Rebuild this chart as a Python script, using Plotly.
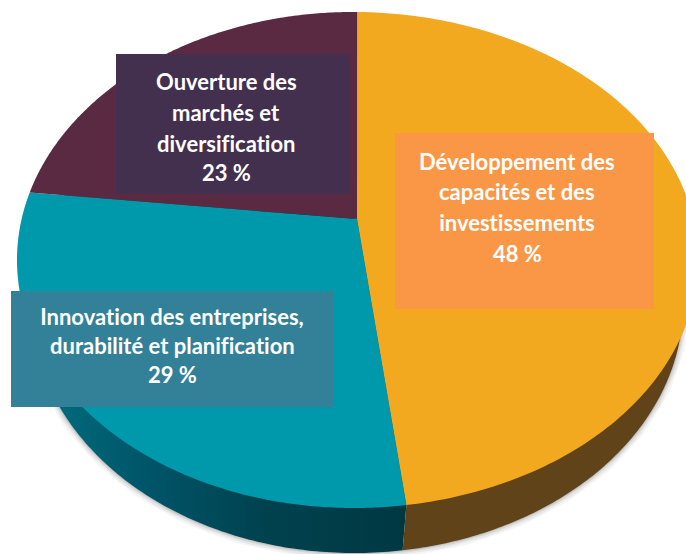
import numpy as np
import plotly.graph_objects as go

# Chart content
slice_names = ["Développement des capacités et des investissements",
               "Innovation des entreprises, durabilité et planification",
               "Ouverture des marchés et diversification"]
slice_shares = [48, 29, 23]          # printed percentages
drawn_sweeps = [170.4, 114.7, 74.9]  # degrees of each slice as drawn on the tilted disc
slice_colors = ["#F2A91F", "#0098AB", "#5A2A42"]
label_lines = [["Développement des", "capacités et des", "investissements", f"{slice_shares[0]} %"],
               ["Innovation des entreprises,", "durabilité et planification", f"{slice_shares[1]} %"],
               ["Ouverture des", "marchés et", "diversification", f"{slice_shares[2]} %"]]
label_boxes = [(395, 133, 654, 309), (11, 291, 333, 407), (116, 54, 350, 194)]
box_colors = ["#FA9747", "#338099", "#43304F"]
label_cx = [517, 172, 226]
label_y = [[161, 191, 222, 253], [316, 345, 374], [81, 112, 143, 172]]

W, H = 686, 554
START = 0.7
TOP = dict(cx=353, cy=260, a_right=345, a_left=336, b=248)
BOTTOM = dict(cx=354, cy=305, a_right=329, a_left=323, b=248)
HUB = (357, 219)


def arc(e, t0, t1, n=160):
    t = np.radians(np.linspace(t0, t1, n))
    s = np.sin(t)
    a = np.where(s >= 0, e["a_right"], e["a_left"])
    return e["cx"] + a * s, e["cy"] - e["b"] * np.cos(t)


fig = go.Figure()

# soft shadow round the rim
for width, alpha in [(13, 0.05), (9, 0.07), (5, 0.10), (2, 0.14)]:
    x, y = arc(BOTTOM, 70, 300)
    fig.add_trace(go.Scatter(x=x, y=y, mode="lines", hoverinfo="skip", showlegend=False,
                             line=dict(color=f"rgba(60,60,60,{alpha})", width=width)))

# rim: both pieces are closed through the seam on the top face and the hub
seam_angle = START + drawn_sweeps[0]
seam_x, seam_y = arc(TOP, seam_angle, seam_angle, 1)
seam_t = 171.5
x, y = arc(BOTTOM, 60, seam_t)
fig.add_trace(go.Scatter(x=[HUB[0], *x, *seam_x, HUB[0]], y=[HUB[1], *y, *seam_y, HUB[1]],
                         fill="toself", fillcolor="#604318", mode="none",
                         hoverinfo="skip", showlegend=False))
x, y = arc(BOTTOM, seam_t, 305)
fig.add_trace(go.Scatter(x=[HUB[0], *seam_x, *x, HUB[0]], y=[HUB[1], *seam_y, *y, HUB[1]],
                         fill="toself", mode="none", hoverinfo="skip", showlegend=False,
                         fillgradient=dict(type="horizontal", start=50, stop=405,
                                           colorscale=[[0, "#006C7C"], [0.25, "#00566A"],
                                                       [0.6, "#00424F"], [1, "#003842"]])))

# top face
start = START
for name, sweep, color, share in zip(slice_names, drawn_sweeps, slice_colors, slice_shares):
    ax, ay = arc(TOP, start, start + sweep)
    fig.add_trace(go.Scatter(x=[HUB[0], *ax, HUB[0]], y=[HUB[1], *ay, HUB[1]],
                             fill="toself", fillcolor=color, mode="none", name=name,
                             text=f"{name}: {share} %", hoverinfo="text", showlegend=False))
    start += sweep

# label boxes and text
shapes = [dict(type="rect", xref="x", yref="y", x0=b[0], y0=b[1], x1=b[2], y1=b[3],
               fillcolor=c, line_width=0, layer="above")
          for b, c in zip(label_boxes, box_colors)]
annotations = []
for lines, cx, ys in zip(label_lines, label_cx, label_y):
    for line, ly in zip(lines, ys):
        annotations.append(dict(x=cx, y=ly, text=line, showarrow=False, xref="x", yref="y",
                                xanchor="center", yanchor="middle",
                                font=dict(family="Lato, 'Open Sans', sans-serif", size=22,
                                          color="white", weight="bold")))

fig.update_layout(width=W, height=H, margin=dict(l=0, r=0, t=0, b=0), autosize=False,
                  paper_bgcolor="white", plot_bgcolor="white", showlegend=False,
                  shapes=shapes, annotations=annotations,
                  xaxis=dict(range=[0, W], visible=False, fixedrange=True),
                  yaxis=dict(range=[H, 0], visible=False, fixedrange=True))
page_css = ("var s=document.createElement('style');"
            "s.textContent='html,body{margin:0;padding:0;overflow:hidden}"
            "text{font-variant-ligatures:none !important;font-feature-settings:\"liga\" 0 !important}';"
            "document.head.appendChild(s);")
fig.write_html("out.html", config=dict(displayModeBar=False), post_script=page_css)
